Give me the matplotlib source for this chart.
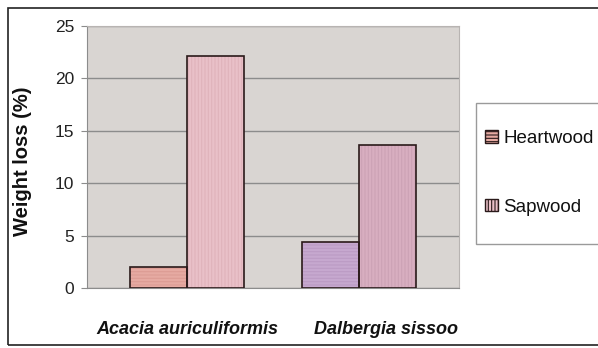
import matplotlib
matplotlib.use("Agg")
import matplotlib.pyplot as plt
from matplotlib.patches import Rectangle, Patch

species = ["Acacia auriculiformis", "Dalbergia sissoo"]
heartwood = [2.0, 4.4]
sapwood = [22.1, 13.6]
series_names = ["Heartwood", "Sapwood"]
y_ticks = [0, 5, 10, 15, 20, 25]

heart_colors = ["#e6aaa2", "#c6a8cf"]
sap_colors = ["#e9c0c8", "#d8aec0"]
heart_hatch = ["#dc9c94", "#bb9bc4"]
sap_hatch = ["#dfb3bb", "#cca2b5"]

FONT = "Liberation Sans"
W, H = 598, 348
fig = plt.figure(figsize=(W / 100, H / 100), dpi=100)
fig.patch.set_facecolor("white")

# plot area in pixel coordinates
left, right, top, bottom = 87, 459, 26, 288
ax = fig.add_axes([left / W, 1 - bottom / H, (right - left) / W, (bottom - top) / H])
ax.set_facecolor("#d9d5d2")

bw = 0.331
x = list(range(len(species)))
xh = [i - bw / 2 for i in x]
xs = [i + bw / 2 for i in x]

plt.rcParams["hatch.linewidth"] = 0.8
for i in x:
    ax.bar(xh[i], heartwood[i], width=bw, color=heart_colors[i], edgecolor=heart_hatch[i],
           hatch="-----", linewidth=0, zorder=3)
    ax.bar(xh[i], heartwood[i], width=bw, fill=False, edgecolor="#2a1a1a", linewidth=1.2, zorder=4)
    ax.bar(xs[i], sapwood[i], width=bw, color=sap_colors[i], edgecolor=sap_hatch[i],
           hatch="|||||", linewidth=0, zorder=3)
    ax.bar(xs[i], sapwood[i], width=bw, fill=False, edgecolor="#2a1a1a", linewidth=1.2, zorder=4)

ax.set_xlim(-0.581, 1.581)
ax.set_ylim(0, 25)
ax.set_yticks(y_ticks)
ax.set_yticklabels([str(t) for t in y_ticks], fontsize=12.5, family=FONT, color="#222222")
ax.yaxis.grid(True, color="#8c8c8c", linewidth=1.0, zorder=1)
ax.set_axisbelow(True)
ax.tick_params(axis="y", length=4, color="#8c8c8c", pad=5)
ax.tick_params(axis="x", length=0, pad=24)
ax.set_xticks([0, 1.157])
ax.set_xticklabels(species, fontsize=13, fontstyle="italic", fontweight="bold", family=FONT,
                   color="#111111")
for s in ["top", "right"]:
    ax.spines[s].set_color("#b8b4b2")
ax.spines["left"].set_color("#8c8c8c")
ax.spines["bottom"].set_color("#8c8c8c")
ax.set_ylabel("Weight loss (%)", fontsize=14.5, fontweight="bold", family=FONT,
              color="#111111")
ax.yaxis.set_label_coords(-0.148, 0.485)

# legend box, running off the right edge of the canvas
fig.patches.append(Rectangle((476 / W, 1 - 244 / H), 0.3, (244 - 103) / H,
                             transform=fig.transFigure, facecolor="white",
                             edgecolor="#9a9a9a", linewidth=1.0, clip_on=False))
handles = [Patch(facecolor=heart_colors[0], edgecolor="#2a1a1a", hatch="-----", linewidth=1.0),
           Patch(facecolor=sap_colors[0], edgecolor="#2a1a1a", hatch="|||||", linewidth=1.0)]
leg = fig.legend(handles, series_names, loc="upper left",
                 bbox_to_anchor=(485 / W, 1 - 130 / H),
                 prop={"family": FONT, "size": 13.5},
                 frameon=False, handlelength=0.68, handleheight=0.68, handletextpad=0.3,
                 labelspacing=2.75, borderpad=0, borderaxespad=0)
for t in leg.get_texts():
    t.set_color("#111111")

# outer chart frame
fig.patches.append(Rectangle((8 / W, 3 / H), 1.0, 1 - 11 / H, transform=fig.transFigure,
                             fill=False, edgecolor="#222222", linewidth=1.2, clip_on=False))

fig.savefig("out.png", dpi=100)
